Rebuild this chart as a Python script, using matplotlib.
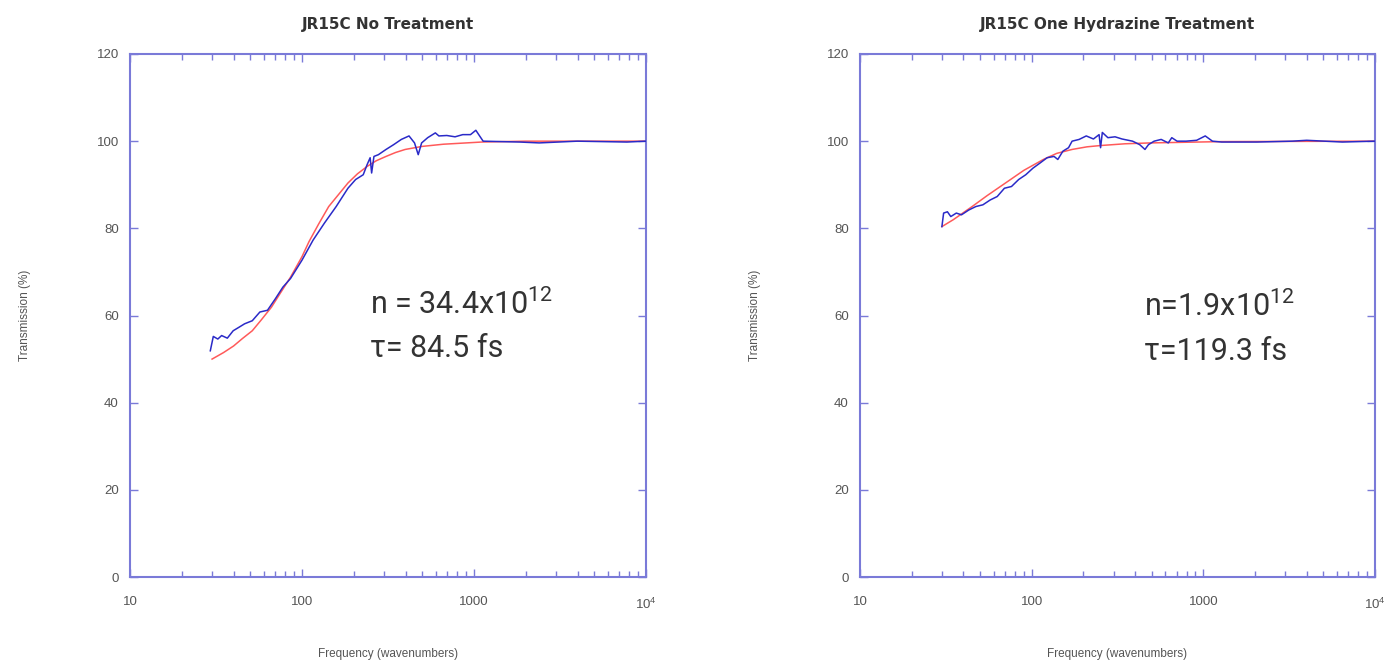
import matplotlib
matplotlib.use("Agg")
import matplotlib.pyplot as plt
from matplotlib.ticker import LogLocator, FixedLocator, FixedFormatter, NullFormatter

# measured transmission vs frequency, JR15C untreated
freq_a = [29.3, 30.5, 32.4, 34.1, 36.8, 39.8, 43, 46.4, 51.4, 56.9, 63, 69.9, 77.4, 85.8,
          100, 116, 135, 158, 185, 205, 227, 239, 249, 254, 262, 278, 308, 341, 378, 419,
          451, 474, 496, 538, 596, 625, 695, 776, 860, 954, 1025, 1078, 1130, 1845, 2393,
          3987, 7743, 10000]
meas_a = [51.9, 55.2, 54.6, 55.4, 54.8, 56.5, 57.3, 58.1, 58.8, 60.8, 61.2, 63.8, 66.5, 68.5,
          72.7, 77.3, 81.2, 85.0, 89.2, 91.2, 92.3, 94.6, 96.2, 92.7, 96.5, 96.9, 98.1, 99.2,
          100.4, 101.2, 99.6, 96.9, 99.6, 100.8, 101.9, 101.2, 101.3, 101.0, 101.5, 101.5,
          102.5, 101.2, 100.0, 99.8, 99.6, 100.0, 99.8, 100.0]
fitf_a = [30, 35, 40, 45, 51.4, 58, 66.4, 75, 85.8, 100, 110, 125, 143, 165, 185, 210, 239,
          270, 308, 350, 398, 500, 664, 1107, 2000, 10000]
fit_a = [50.0, 51.5, 53.0, 54.7, 56.5, 59.0, 61.9, 65.2, 68.8, 73.5, 77.0, 81.0, 85.0, 88.0,
         90.4, 92.5, 94.2, 95.5, 96.5, 97.4, 98.1, 98.8, 99.3, 99.8, 100, 100]

# JR15C after one hydrazine treatment
freq_b = [30, 30.7, 32.3, 33.8, 36.4, 39, 43, 47.3, 52, 57.3, 63, 69.4, 76.3, 84, 92.4, 101.7,
          112, 123, 135, 142, 152, 164, 172, 189, 208, 229, 247, 252, 258, 278, 306, 336, 387,
          426, 457, 479, 517, 568, 625, 655, 703, 793, 914, 1026, 1130, 1279, 2047, 3296, 4001,
          6451, 10000]
meas_b = [80.4, 83.5, 83.8, 82.7, 83.5, 83.1, 84.2, 85.0, 85.4, 86.5, 87.3, 89.2, 89.6, 91.2,
          92.3, 93.8, 95.0, 96.2, 96.5, 95.8, 97.7, 98.5, 100.0, 100.4, 101.2, 100.5, 101.5,
          98.5, 102.0, 100.8, 101.0, 100.5, 100.0, 99.2, 98.1, 99.2, 100.0, 100.4, 99.6, 100.8,
          100.0, 100.0, 100.2, 101.2, 100.0, 99.8, 99.8, 100.0, 100.2, 99.8, 100.0]
fitf_b = [30, 35, 45, 55, 72.8, 90, 117, 140, 172, 210, 252, 350, 492, 1279, 10000]
fit_b = [80.4, 82.0, 85.0, 87.5, 90.8, 93.3, 95.8, 97.2, 98.1, 98.7, 99.0, 99.4, 99.6, 99.9, 100]

titles = ["JR15C No Treatment", "JR15C One Hydrazine Treatment"]
notes = [("n = 34.4x10$^{\\mathregular{12}}$", "\u03c4= 84.5 fs"),
         ("n=1.9x10$^{\\mathregular{12}}$", "\u03c4=119.3 fs")]
yticks = [0, 20, 40, 60, 80, 100, 120]
xticks = [10, 100, 1000, 10000]
xticklabels = ["10", "100", "1000", "10$^{\\mathregular{4}}$"]

plt.rcParams["font.family"] = ["Liberation Sans", "DejaVu Sans"]

spine_col = "#7a7ad8"
label_col = "#555555"

fig = plt.figure(figsize=(13.94, 6.68), dpi=100)
axes = [fig.add_axes([130 / 1394, 1 - 577 / 668, 516 / 1394, 523 / 668]),
        fig.add_axes([860 / 1394, 1 - 577 / 668, 515 / 1394, 523 / 668])]

data = [(freq_a, meas_a, fitf_a, fit_a), (freq_b, meas_b, fitf_b, fit_b)]
for ax, (fm, ym, ff, yf), title in zip(axes, data, titles):
    ax.plot(ff, yf, color="#ff5a5a", lw=1.1, zorder=2)
    ax.plot(fm, ym, color="#2a2ac8", lw=1.1, zorder=3)
    ax.set_xscale("log")
    ax.set_xlim(10, 10000)
    ax.set_ylim(0, 120)
    ax.xaxis.set_major_locator(FixedLocator(xticks))
    ax.xaxis.set_major_formatter(FixedFormatter(xticklabels))
    ax.xaxis.set_minor_locator(LogLocator(base=10, subs=range(2, 10)))
    ax.xaxis.set_minor_formatter(NullFormatter())
    ax.set_yticks(yticks)
    ax.tick_params(which="both", direction="in", top=True, right=True, color=spine_col,
                   labelcolor=label_col, labelsize=9.5, pad=8)
    ax.tick_params(axis="x", pad=14)
    ax.tick_params(which="major", length=6, width=1)
    ax.tick_params(which="minor", length=4, width=1)
    for s in ax.spines.values():
        s.set_color(spine_col)
        s.set_linewidth(1.5)
    ax.set_title(title, fontsize=11, fontweight="bold", color="#333333", pad=18,
                 family=["DejaVu Sans"])
    ax.set_xlabel("Frequency (wavenumbers)", fontsize=8.5, color=label_col, labelpad=26)
    ax.set_ylabel("Transmission (%)", fontsize=8.5, color=label_col, labelpad=47)

# fit parameters
txt = dict(fontsize=22, color="#333333", family=["Roboto", "DejaVu Sans"], va="baseline", ha="left")
fig.text(370 / 1394, 1 - 314 / 668, notes[0][0], **txt)
fig.text(370 / 1394, 1 - 357 / 668, notes[0][1], **txt)
fig.text(1144 / 1394, 1 - 316 / 668, notes[1][0], **txt)
fig.text(1144 / 1394, 1 - 360 / 668, notes[1][1], **txt)

fig.savefig("out.png", dpi=100)
